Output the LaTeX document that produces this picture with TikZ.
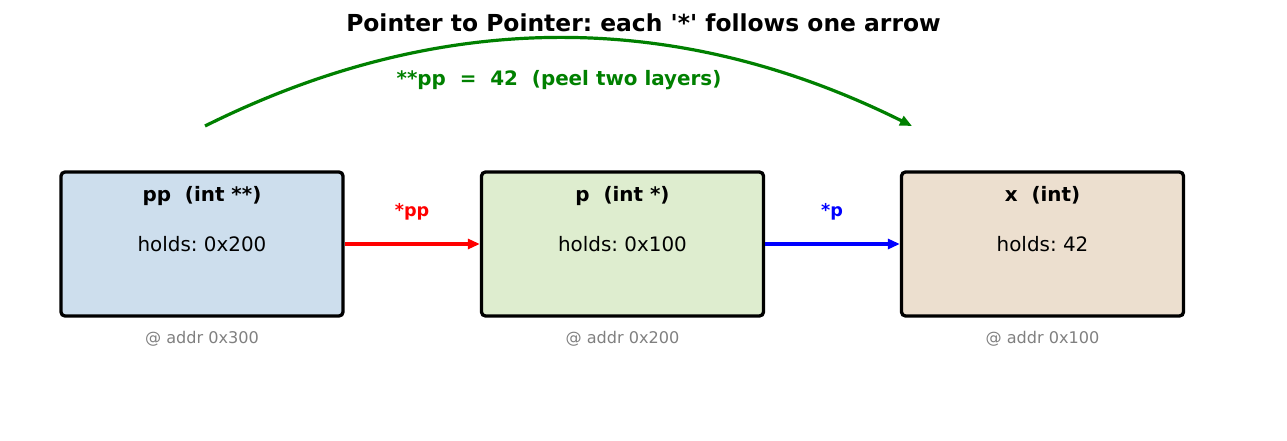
\documentclass[tikz,border=0pt]{standalone}
\usepackage{fontspec}
\setmainfont{DejaVu Sans}[Ligatures=TeXOff]
\usetikzlibrary{arrows.meta}
\definecolor{fillA}{RGB}{205,222,237}
\definecolor{fillB}{RGB}{222,237,207}
\definecolor{fillC}{RGB}{236,223,207}
\definecolor{mgreen}{RGB}{0,128,0}
\definecolor{mgray}{RGB}{128,128,128}
\tikzset{
  cell/.style={draw=black, line width=3.3pt, rounded corners=4pt, minimum width=282pt, minimum height=144pt, inner sep=0pt, font=\fontsize{19.9}{24}\selectfont},
  celltitle/.style={font=\bfseries\fontsize{19.9}{24}\selectfont, inner sep=0pt, anchor=base},
  addr/.style={text=mgray, font=\fontsize{16.1}{19}\selectfont, inner sep=0pt, anchor=base},
  ptr/.style={line width=3.2pt, -{Triangle[length=12pt,width=10pt]}},
  ptrlabel/.style={font=\bfseries\fontsize{17.6}{21}\selectfont, inner sep=0pt, anchor=base},
}
\begin{document}
\frenchspacing
\begin{tikzpicture}[x=1pt,y=-1pt]
\useasboundingbox (0,0) rectangle (1287,441);
\node[font=\bfseries\fontsize{23.4}{28}\selectfont, inner sep=0pt] (title) at (643.5,23) {Pointer to Pointer: each '*' follows one arrow};

\node[cell, fill=fillA] (pp) at (202,244) {holds: 0x200};
\node[cell, fill=fillB] (p) at (622.5,244) {holds: 0x100};
\node[cell, fill=fillC] (x) at (1042.5,244) {holds: 42};

\node[celltitle] (ppt) at (202,201.5) {pp\ \ (int **)};
\node[celltitle] (pt) at (622.5,201.5) {p\ \ (int *)};
\node[celltitle] (xt) at (1042.5,201.5) {x\ \ (int)};

\node[addr] (ppa) at (202,343) {@ addr 0x300};
\node[addr] (pa) at (622.5,343) {@ addr 0x200};
\node[addr] (xa) at (1042.5,343) {@ addr 0x100};

\draw[ptr, red] (pp.east) -- (p.west);
\draw[ptr, blue] (p.east) -- (x.west);
\node[ptrlabel, text=red] (l1) at (412,216) {*pp};
\node[ptrlabel, text=blue] (l2) at (832,216) {*p};

\coordinate (arcA) at (205,126);
\coordinate (arcB) at (912,126);
\draw[ptr, mgreen] (arcA) .. controls (440.7,8.7) and (676.3,8.7) .. (arcB);
\node[ptrlabel, text=mgreen, font=\bfseries\fontsize{19.9}{24}\selectfont] (deref) at (559,86) {**pp\ \ =\ \ 42\ \ (peel two layers)};
\end{tikzpicture}
\end{document}
